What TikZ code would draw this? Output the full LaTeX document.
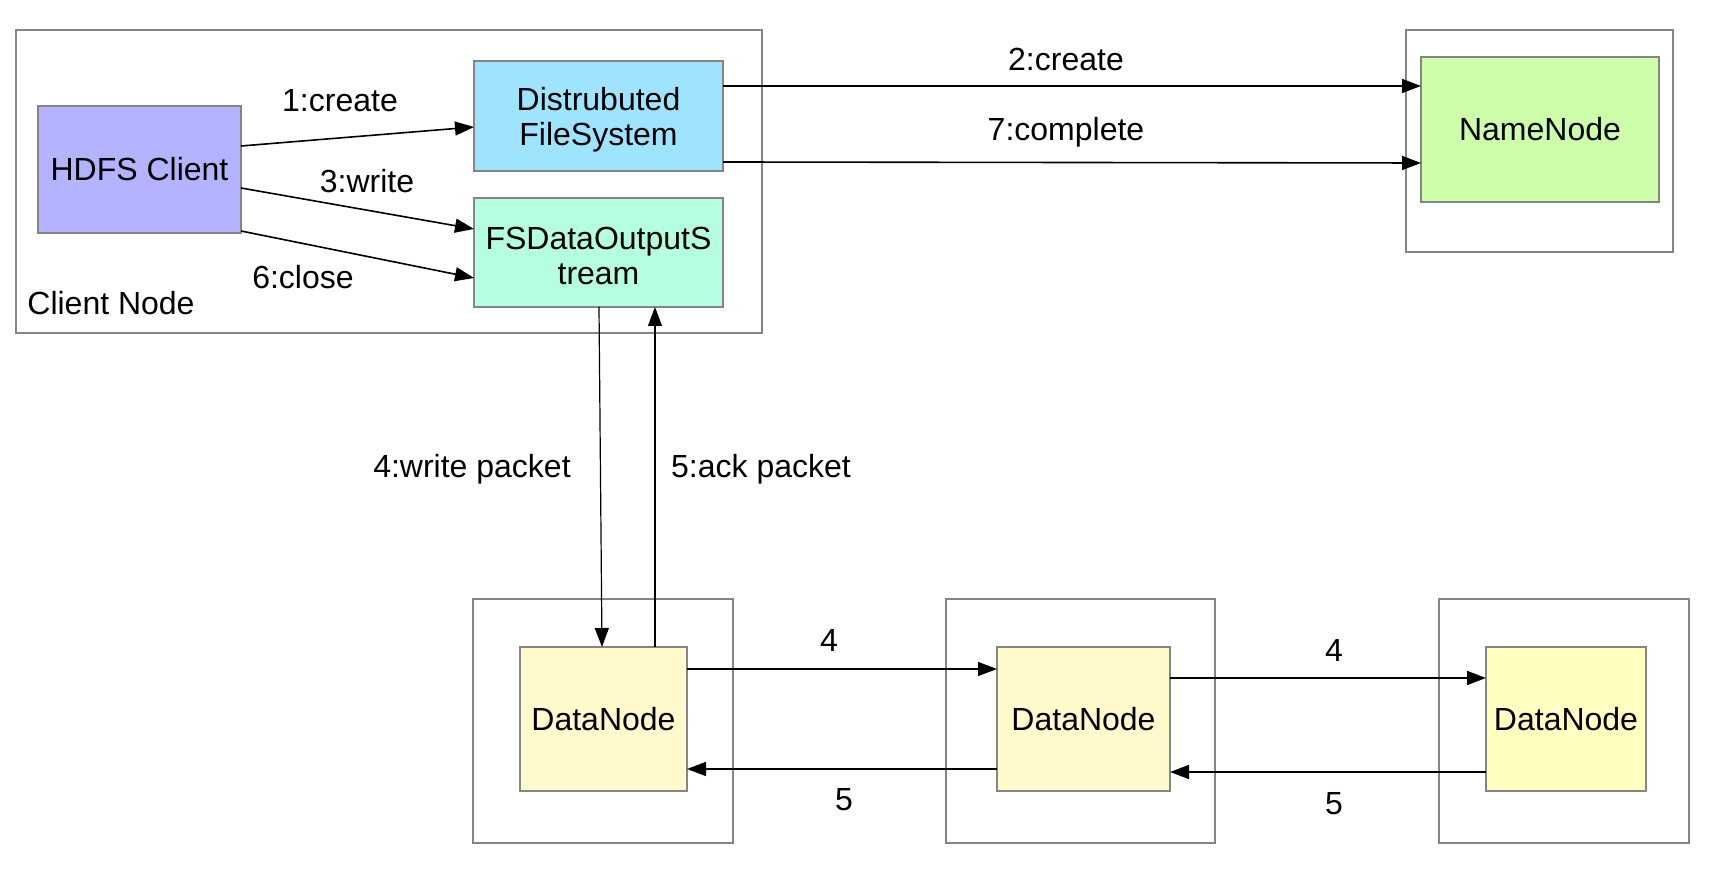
\documentclass[tikz,border=0pt]{standalone}
\usepackage{fontspec}
\setmainfont{Liberation Sans}
\usetikzlibrary{arrows.meta,calc}
\definecolor{bordergray}{HTML}{858585}
\definecolor{hdfsfill}{HTML}{B3B3FF}
\definecolor{dfsfill}{HTML}{9EE4FF}
\definecolor{fsdosfill}{HTML}{B4FFE0}
\definecolor{nnfill}{HTML}{CDFFAA}
\definecolor{dnfill}{HTML}{FFF9CC}
\definecolor{dnfillb}{HTML}{FFFFC0}
\tikzset{
  box/.style={draw=bordergray, line width=0.7pt, rectangle, inner sep=0pt, outer sep=0pt, align=center, font=\fontsize{16}{17.5}\selectfont},
  lbl/.style={inner sep=0pt, font=\fontsize{16}{17.5}\selectfont},
  arr/.style={draw=black, line width=0.8pt, -{Triangle[length=9.5pt,width=7pt]}},
  arrthin/.style={draw=black, line width=0.6pt, -{Triangle[length=9.5pt,width=7pt]}},
}
\begin{document}
\begin{tikzpicture}[x=0.5pt,y=-0.5pt]
\useasboundingbox (0,0) rectangle (1710,870);
% containers
\node[box, minimum width=373pt, minimum height=151.5pt] (client) at (389,181.5) {};
\node[box, minimum width=133.5pt, minimum height=111pt] (nnout) at (1539.5,141) {};
\node[box, minimum width=130pt, minimum height=122pt] (dn1out) at (603,721) {};
\node[box, minimum width=134.5pt, minimum height=122pt] (dn2out) at (1080.5,721) {};
\node[box, minimum width=125pt, minimum height=122pt] (dn3out) at (1564,721) {};
% inner nodes
\node[box, fill=hdfsfill, minimum width=101.5pt, minimum height=63.5pt] (hdfs) at (139.5,169.5) {HDFS Client};
\node[box, fill=dfsfill, minimum width=124.5pt, minimum height=55pt] (dfs) at (598.5,116) {};
\node[lbl, align=center] (dfstext) at ($(dfs.center)+(0,4)$) {Distrubuted\\FileSystem};
\node[box, fill=fsdosfill, minimum width=124.5pt, minimum height=54.5pt] (fsdos) at (598.5,252.5) {};
\node[lbl, align=center] (fsdostext) at ($(fsdos.center)+(0,3)$) {FSDataOutputS\\tream};
\node[box, fill=nnfill, minimum width=119pt, minimum height=72.5pt] (nn) at (1540,129.5) {NameNode};
\node[box, fill=dnfill, minimum width=83.5pt, minimum height=72pt] (dn1) at (603.5,719) {DataNode};
\node[box, fill=dnfill, minimum width=86.5pt, minimum height=72pt] (dn2) at (1083.5,719) {DataNode};
\node[box, fill=dnfillb, minimum width=80pt, minimum height=72pt] (dn3) at (1566,719) {DataNode};
% connectors
\draw[arr] ($(hdfs.north east)+(0,40)$) -- ($(dfs.north west)+(0,66)$);
\draw[arr] ($(hdfs.north east)+(0,82)$) -- ($(fsdos.north west)+(0,31)$);
\draw[arr] ($(hdfs.north east)+(0,125)$) -- ($(fsdos.north west)+(0,80)$);
\draw[arr] ($(dfs.north east)+(0,25)$) -- ($(nn.north west)+(0,29)$);
\draw[arr] ($(dfs.north east)+(0,101)$) -- ($(nn.north west)+(0,106)$);
\draw[arrthin] ($(fsdos.south west)+(125,0)$) -- ($(dn1.north west)+(82,0)$);
\draw[arrthin] ($(dn1.north west)+(135,0)$) -- ($(fsdos.south west)+(181,0)$);
\draw[arrthin] ($(dn1.north east)+(0,22)$) -- ($(dn2.north west)+(0,22)$);
\draw[arr] ($(dn2.north west)+(0,122)$) -- ($(dn1.north east)+(0,122)$);
\draw[arr] ($(dn2.north east)+(0,31)$) -- ($(dn3.north west)+(0,31)$);
\draw[arr] ($(dn3.north west)+(0,125)$) -- ($(dn2.north east)+(0,125)$);
% labels
\node[lbl] (l1) at (340,101) {1:create};
\node[lbl] (l3) at (367,181) {3:write};
\node[lbl] (l6) at (303,277) {6:close};
\node[lbl, anchor=west] (lcn) at (27,303) {Client Node};
\node[lbl] (l2) at (1066,59) {2:create};
\node[lbl] (l7) at (1066,132) {7:complete};
\node[lbl] (l4wp) at (472,469) {4:write packet};
\node[lbl] (l5ap) at (761,469) {5:ack packet};
\node[lbl] (l4a) at (829,640) {4};
\node[lbl] (l5a) at (844,800) {5};
\node[lbl] (l4b) at (1334,650) {4};
\node[lbl] (l5b) at (1334,804) {5};
\end{tikzpicture}
\end{document}
